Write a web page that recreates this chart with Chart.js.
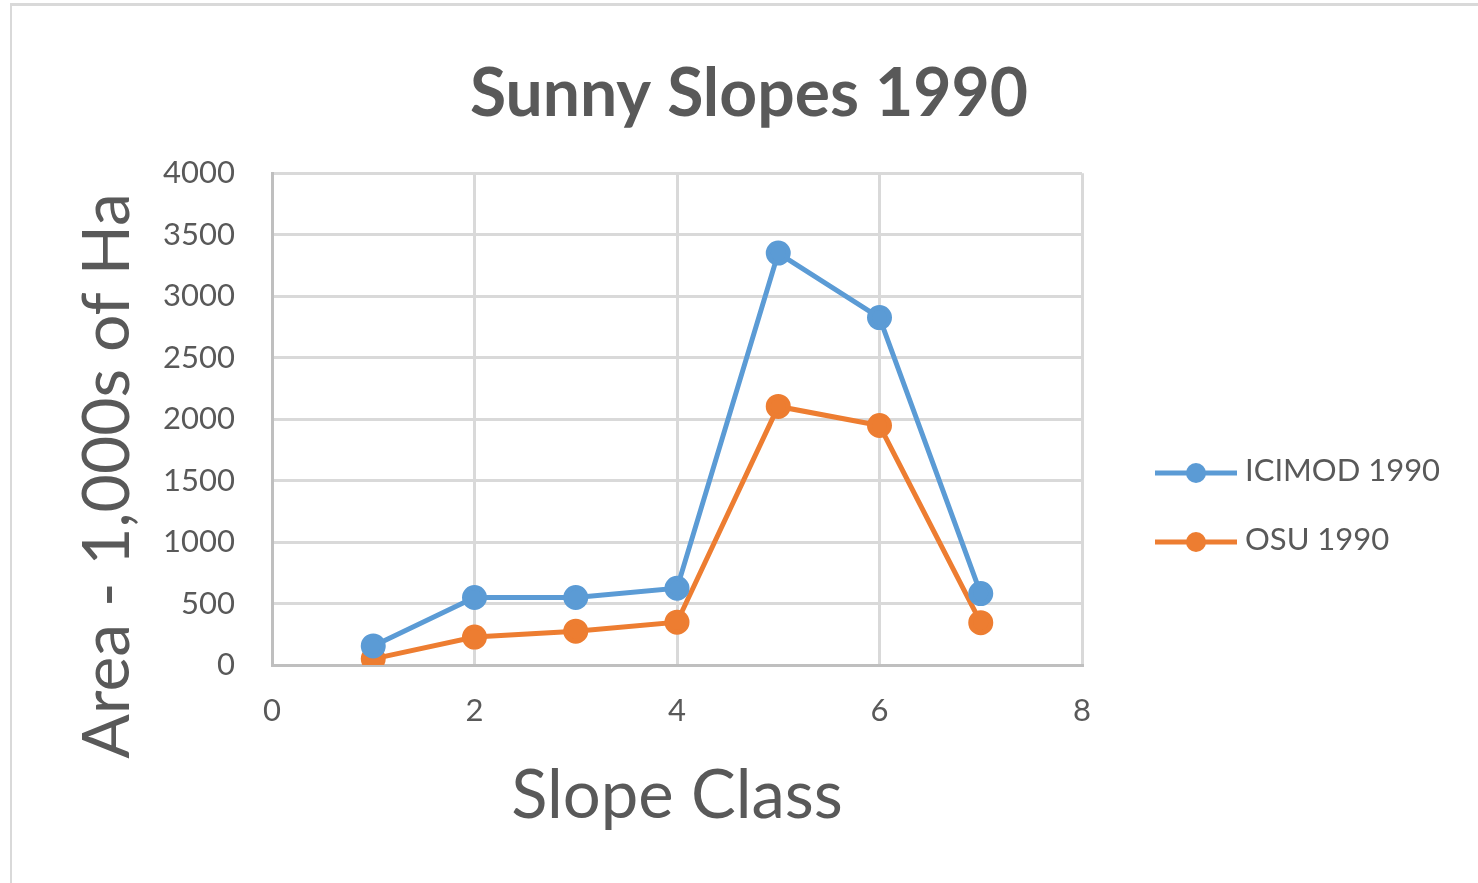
<!DOCTYPE html>
<html>
<head>
<meta charset="utf-8">
<script src="https://cdn.jsdelivr.net/npm/chart.js@4"></script>
<style>
  body { margin: 0; background: #fff; }
  #frame { position: absolute; left: 10px; top: 3px; right: 0; bottom: 0;
           border-top: 3px solid #d9d9d9; border-left: 2px solid #d9d9d9; }
  #wrap { position: absolute; left: 0; top: 0; width: 1478px; height: 883px; }
</style>
</head>
<body>
<div id="frame"></div>
<div id="wrap"><canvas id="slopes" width="1478" height="883"></canvas></div>
<script>
/* Sunny Slopes 1990 - area by slope class */
var slopeClass = [1, 2, 3, 4, 5, 6, 7];
var icimod1990 = [155, 549, 549, 624, 3350, 2826, 581];
var osu1990 = [50, 227, 275, 348, 2103, 1948, 344];
var seriesNames = ['ICIMOD 1990', 'OSU 1990'];
var xTicks = [0, 2, 4, 6, 8];
var yTicks = [0, 500, 1000, 1500, 2000, 2500, 3000, 3500, 4000];

var textColor = '#595959';
var fontName = 'Lato, "Open Sans", sans-serif';

function toPoints(xs, ys) {
    return xs.map(function (x, i) { return { x: x, y: ys[i] }; });
}

// y title + legend drawn by hand so they sit where Excel put them
var sideBits = {
    id: 'sideBits',
    afterDraw: function (chart) {
        var ctx = chart.ctx;
        ctx.save();
        // axis title
        ctx.translate(108, 476);
        ctx.rotate(-Math.PI / 2);
        ctx.fillStyle = textColor;
        ctx.font = '66px ' + fontName;
        ctx.textAlign = 'center';
        ctx.textBaseline = 'middle';
        ctx.fillText('Area - 1,000s of Ha', 0, 0);
        ctx.restore();

        // legend
        var rows = [473, 542];
        ctx.save();
        chart.data.datasets.forEach(function (ds, i) {
            var y = rows[i];
            ctx.strokeStyle = ds.borderColor;
            ctx.lineWidth = 5;
            ctx.beginPath();
            ctx.moveTo(1155, y);
            ctx.lineTo(1237, y);
            ctx.stroke();
            ctx.fillStyle = ds.borderColor;
            ctx.beginPath();
            ctx.arc(1196, y, 10, 0, Math.PI * 2);
            ctx.fill();
            ctx.fillStyle = textColor;
            ctx.font = '31px ' + fontName;
            ctx.textBaseline = 'middle';
            ctx.textAlign = 'left';
            ctx.fillText(ds.label, 1245, y - 2);
        });
        ctx.restore();
    }
};

var ctx = document.getElementById('slopes').getContext('2d');
var myChart = new Chart(ctx, {
    type: 'scatter',
    data: {
        datasets: [{
            label: seriesNames[0],
            data: toPoints(slopeClass, icimod1990),
            showLine: true,
            borderColor: '#5B9BD5',
            backgroundColor: '#5B9BD5',
            borderWidth: 5,
            pointRadius: 10,
            pointHoverRadius: 10
        }, {
            label: seriesNames[1],
            data: toPoints(slopeClass, osu1990),
            showLine: true,
            borderColor: '#ED7D31',
            backgroundColor: '#ED7D31',
            borderWidth: 5,
            pointRadius: 10,
            pointHoverRadius: 10
        }]
    },
    options: {
        responsive: false,
        animation: false,
        layout: { padding: { left: 20, right: 0, top: 0, bottom: 42 } },
        plugins: {
            legend: { display: false },
            tooltip: { enabled: false },
            title: {
                display: true,
                text: 'Sunny Slopes 1990',
                color: textColor,
                font: { family: fontName, size: 66, weight: 'bold', lineHeight: 1.2 },
                padding: { top: 55, bottom: 39 }
            }
        },
        scales: {
            x: {
                type: 'linear',
                min: 0,
                max: 8,
                afterBuildTicks: function (s) { s.ticks = xTicks.map(function (v) { return { value: v }; }); },
                afterFit: function (s) { s.height = 176; },
                grid: { color: '#d9d9d9', lineWidth: 3, drawTicks: false },
                border: { color: '#bfbfbf', width: 3 },
                ticks: { color: textColor, font: { family: fontName, size: 31 }, padding: 27, maxRotation: 0 },
                title: {
                    display: true,
                    text: 'Slope Class',
                    color: textColor,
                    font: { family: fontName, size: 67, lineHeight: 1.2 },
                    padding: { top: 4, bottom: 4 }
                }
            },
            y: {
                min: 0,
                max: 4000,
                afterBuildTicks: function (s) { s.ticks = yTicks.map(function (v) { return { value: v }; }); },
                afterFit: function (s) { s.width = 252; },
                grid: { color: '#d9d9d9', lineWidth: 3, drawTicks: false },
                border: { color: '#bfbfbf', width: 3 },
                ticks: { color: textColor, font: { family: fontName, size: 31 }, padding: 37,
                         callback: function (v) { return String(v); } }
            },
            // empty right axis only keeps room for the legend
            legendRoom: {
                type: 'linear',
                position: 'right',
                afterFit: function (s) { s.width = 396; },
                grid: { display: false },
                border: { display: false },
                ticks: { display: false }
            }
        }
    },
    plugins: [sideBits]
});
</script>
</body>
</html>
